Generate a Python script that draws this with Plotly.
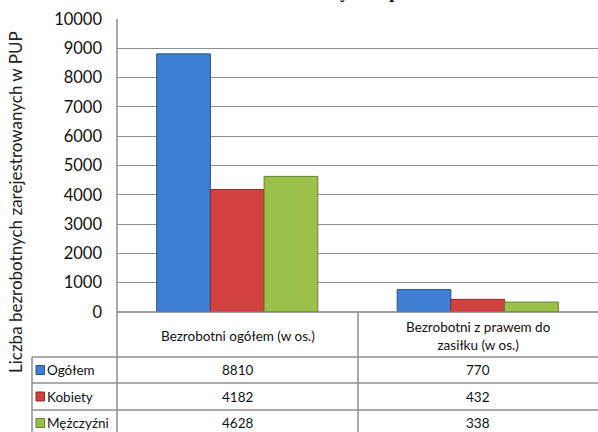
import plotly.graph_objects as go

W, H = 598, 432

categories = ["Bezrobotni ogółem (w os.)", "Bezrobotni z prawem do<br>zasiłku (w os.)"]
series_names = ["Ogółem", "Kobiety", "Mężczyźni"]
ogolem = [8810, 770]
kobiety = [4182, 432]
mezczyzni = [4628, 338]
series_values = [ogolem, kobiety, mezczyzni]
y_ticks = [0, 1000, 2000, 3000, 4000, 5000, 6000, 7000, 8000, 9000, 10000]
title_text = "Liczba bezrobotnych w powiecie"
y_title = "Liczba bezrobotnych zarejestrowanych w PUP"

fills = ["#3d7fd1", "#d0413f", "#9bc14a"]
edges = ["#27558f", "#8b2b2a", "#667f2e"]

PL, PR, PT, PB = 117, 598, 19, 312
TBL_LEFT = 32
COL_DIV = 358
ROW_LINES = [357, 383, 410]
GRID = "#8f8f8f"

def px(x):
    return x / W

def py(y):
    return 1 - y / H

fig = go.Figure()
for name, vals, f, e in zip(series_names, series_values, fills, edges):
    fig.add_trace(go.Bar(
        x=categories, y=vals, name=name,
        marker=dict(color=f, line=dict(color=e, width=1)),
        showlegend=False, hoverinfo="y+name",
    ))

shapes = []
def line(x0, y0, x1, y1, color=GRID, width=1.5):
    shapes.append(dict(type="line", xref="paper", yref="paper",
                       x0=px(x0), y0=py(y0), x1=px(x1), y1=py(y1),
                       line=dict(color=color, width=width), layer="above"))

for yy in ROW_LINES:
    line(TBL_LEFT, yy, W, yy)
line(TBL_LEFT, ROW_LINES[0], TBL_LEFT, H)
line(PL, PT, PL, H)
line(COL_DIV, PB, COL_DIV, H)
line(PL, PB, W, PB, color="#808080", width=1.6)

annotations = []
font_tbl = dict(family="Lato, Carlito, sans-serif", size=13.5, color="#111")

col_centers = [(PL + COL_DIV) / 2, (COL_DIV + PR) / 2]
header_mid = (PB + ROW_LINES[0]) / 2 + 1
for c, cx in zip(categories, col_centers):
    annotations.append(dict(text=c, x=px(cx), y=py(header_mid), xref="paper", yref="paper",
                            xanchor="center", yanchor="middle",
                            showarrow=False, font=font_tbl, align="center"))

row_bounds = [ROW_LINES[0], ROW_LINES[1], ROW_LINES[2], ROW_LINES[2] + 26]
for i, (name, vals, f, e) in enumerate(zip(series_names, series_values, fills, edges)):
    ym = (row_bounds[i] + row_bounds[i + 1]) / 2
    for v, cx in zip(vals, col_centers):
        annotations.append(dict(text=str(v), x=px(cx), y=py(ym), xref="paper", yref="paper",
                                xanchor="center", yanchor="middle",
                                showarrow=False, font=font_tbl))
    annotations.append(dict(text=name, x=px(45), y=py(ym), xref="paper", yref="paper",
                            xanchor="left", yanchor="middle", showarrow=False, font=font_tbl))
    shapes.append(dict(type="rect", xref="paper", yref="paper",
                       x0=px(36), x1=px(44.5), y0=py(ym - 4.5), y1=py(ym + 4.5),
                       fillcolor=f, line=dict(color=e, width=1), layer="above"))

annotations.append(dict(text=y_title, x=px(15), y=py(202), xref="paper", yref="paper",
                        xanchor="center", yanchor="middle",
                        textangle=-90, showarrow=False,
                        font=dict(family="Lato, Carlito, sans-serif", size=17, color="#222")))
annotations.append(dict(text="<b>" + title_text + "</b>", x=px(330), y=py(4), xref="paper", yref="paper",
                        xanchor="center", yanchor="bottom", showarrow=False,
                        font=dict(family="Liberation Serif, Times New Roman, serif", size=18, color="#000")))

fig.update_layout(
    width=W, height=H,
    margin=dict(l=0, r=0, t=0, b=0, pad=0, autoexpand=False),
    paper_bgcolor="white", plot_bgcolor="white",
    barmode="group", bargap=0.33, bargroupgap=0,
    xaxis=dict(domain=[px(PL), px(PR)], showticklabels=False, showgrid=False,
               zeroline=False, showline=False, ticks="", automargin=False),
    yaxis=dict(domain=[py(PB), py(PT)], range=[0, 10000], tickvals=y_ticks,
               tickformat="d", automargin=False,
               showgrid=True, gridcolor=GRID, gridwidth=1.3, zeroline=False,
               showline=False, ticks="", ticklabelstandoff=14,
               tickfont=dict(family="Lato, Carlito, sans-serif", size=16.5, color="#111")),
    shapes=shapes, annotations=annotations,
)

fig.write_html("out.html", config={"displayModeBar": False},
               post_script="document.body.style.margin='0';")
